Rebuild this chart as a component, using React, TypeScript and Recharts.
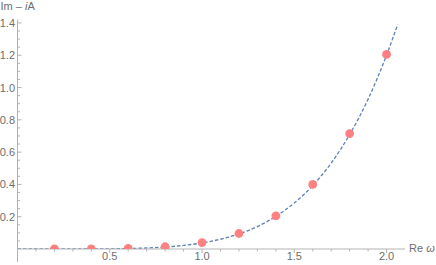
import React from "react";
import {
  ComposedChart,
  Line,
  XAxis,
  YAxis,
  ReferenceLine,
} from "recharts";

// Dashed fitted curve (Re ω, Im − iA)
const curveX = [0, 0.1, 0.2, 0.3, 0.4, 0.5, 0.6, 0.7, 0.8, 0.9, 1.0, 1.1, 1.2, 1.3, 1.4, 1.5, 1.6, 1.7, 1.8, 1.9, 2.0, 2.06];
const curveY = [0, 0, 0.00001, 0.0001, 0.0004, 0.0012, 0.0029, 0.0063, 0.0123, 0.0221, 0.0375, 0.0604, 0.0933, 0.139, 0.202, 0.285, 0.393, 0.532, 0.709, 0.928, 1.2, 1.39];

// Sampled points (red dots)
const pointX = [0.2, 0.4, 0.6, 0.8, 1.0, 1.2, 1.4, 1.6, 1.8, 2.0];
const pointY = [0.0001, 0.0005, 0.004, 0.014, 0.04, 0.096, 0.205, 0.4, 0.715, 1.205];

// Tick labels
const xMajorTicks = [0.5, 1.0, 1.5, 2.0];
const xMinorTicks = [0.1, 0.2, 0.3, 0.4, 0.6, 0.7, 0.8, 0.9, 1.1, 1.2, 1.3, 1.4, 1.6, 1.7, 1.8, 1.9];
const yMajorTicks = [0.2, 0.4, 0.6, 0.8, 1.0, 1.2, 1.4];
const yMinorTicks = [0.05, 0.1, 0.15, 0.25, 0.3, 0.35, 0.45, 0.5, 0.55, 0.65, 0.7, 0.75, 0.85, 0.9, 0.95, 1.05, 1.1, 1.15, 1.25, 1.3, 1.35];

const xLabel = "Re ";
const xLabelSym = "ω";
const yLabelA = "Im – ";
const yLabelSym = "i";
const yLabelB = "A";

const curveData = curveX.map((x, i) => ({ x, curve: curveY[i] }));
const pointData = pointX.map((x, i) => ({ x, pt: pointY[i] }));

const xTicks = [...xMinorTicks, ...xMajorTicks].sort((a, b) => a - b);
const yTicks = [...yMinorTicks, ...yMajorTicks].sort((a, b) => a - b);

const AXIS = "#b3b3b3";
const TEXT = "#6e6e6e";
const FONT = "'Liberation Sans', Arial, sans-serif";

const isMajor = (arr: number[], v: number) => arr.some((m) => Math.abs(m - v) < 1e-6);

const XTick = (props: any) => {
  const { x, y, payload } = props;
  const v = payload.value as number;
  const major = isMajor(xMajorTicks, v);
  return (
    <g>
      <line x1={x} x2={x} y1={y} y2={y + (major ? 4 : 2.5)} stroke={AXIS} strokeWidth={1} />
      {major && (
        <text x={x} y={y + 10.5} textAnchor="middle" fill={TEXT} fontSize={11} fontFamily={FONT}>
          {v.toFixed(1)}
        </text>
      )}
    </g>
  );
};

const YTick = (props: any) => {
  const { x, y, payload } = props;
  const v = payload.value as number;
  const major = isMajor(yMajorTicks, v);
  return (
    <g>
      <line x1={x} x2={x + (major ? 4 : 2.5)} y1={y} y2={y} stroke={AXIS} strokeWidth={1} />
      {major && (
        <text x={x - 2.5} y={y + 4} textAnchor="end" fill={TEXT} fontSize={11} fontFamily={FONT}>
          {v.toFixed(1)}
        </text>
      )}
    </g>
  );
};

const PointDot = (props: any) => {
  const { cx, cy } = props;
  if (cx == null || cy == null || !isFinite(cx) || !isFinite(cy)) return null;
  return <circle cx={cx} cy={cy} r={4.4} fill="#ff8080" />;
};

export default function App() {
  return (
    <div style={{ position: "absolute", left: 0, top: 0, width: 436, height: 265, background: "#fff" }}>
      <ComposedChart
        width={436}
        height={265}
        margin={{ top: 19.7, right: 31, bottom: 0, left: 16.5 }}
      >
        <XAxis
          dataKey="x"
          type="number"
          domain={[0, 2.1]}
          ticks={xTicks}
          interval={0}
          allowDataOverflow
          height={16}
          tickSize={0}
          tickMargin={0}
          tickLine={false}
          axisLine={{ stroke: AXIS, strokeWidth: 1 }}
          tick={<XTick />}
        />
        <YAxis
          type="number"
          domain={[0, 1.42]}
          ticks={yTicks}
          interval={0}
          allowDataOverflow
          width={1}
          tickSize={0}
          tickMargin={0}
          tickLine={false}
          axisLine={{ stroke: AXIS, strokeWidth: 1 }}
          tick={<YTick />}
        />
        <ReferenceLine
          segment={[{ x: 0, y: 0 }, { x: 0, y: -0.08 }]}
          stroke={AXIS}
          strokeWidth={1}
          ifOverflow="visible"
        />
        <Line
          data={curveData}
          dataKey="curve"
          type="monotone"
          stroke="#5e81b5"
          strokeWidth={1.3}
          strokeDasharray="3.5 2"
          dot={false}
          activeDot={false}
          isAnimationActive={false}
        />
        <Line
          data={pointData}
          dataKey="pt"
          stroke="none"
          dot={<PointDot />}
          activeDot={false}
          isAnimationActive={false}
        />
        <text x={0.5} y={10} fill={TEXT} fontSize={11} fontFamily={FONT}>
          {yLabelA}
          <tspan fontStyle="italic">{yLabelSym}</tspan>
          {yLabelB}
        </text>
        <text x={409} y={252} fill={TEXT} fontSize={11} fontFamily={FONT}>
          {xLabel}
          <tspan fontStyle="italic">{xLabelSym}</tspan>
        </text>
      </ComposedChart>
    </div>
  );
}
